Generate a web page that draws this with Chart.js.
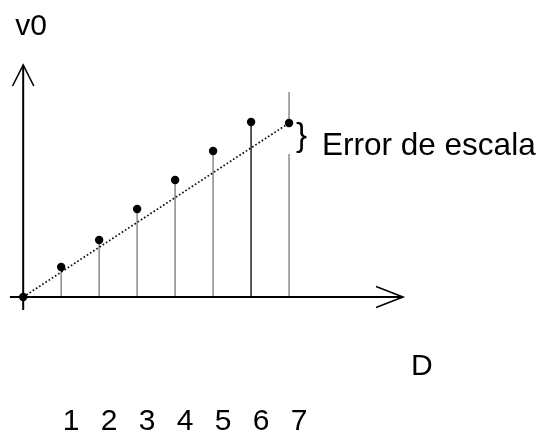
<!DOCTYPE html>
<html>
<head>
<meta charset="utf-8">
<script src="https://cdn.jsdelivr.net/npm/chart.js@4.4.1/dist/chart.umd.min.js"></script>
<style>
  html, body { margin: 0; padding: 0; background: #fff; }
  #wrap { width: 542px; height: 434px; }
</style>
</head>
<body>
<div id="wrap"><canvas id="c"></canvas></div>
<script>
// Reading number D and the measured v0 for each reading
const readings = [1, 2, 3, 4, 5, 6, 7];
const measured = [3.0, 5.7, 8.8, 11.7, 14.6, 17.5, 17.4];
const tickLabels = ['1', '2', '3', '4', '5', '6', '7'];

// Ideal scale: straight line from the origin to the last reading
const idealX = [0, 7];
const idealY = [0, 17.4];

// Vertical guide through the last reading, broken beside the brace
const guideX = 7;
const guideTop = 20.5;
const guideBreak = 14.3;

// Extent of the two drawn axes
const xAxisSpan = [-0.35, 10.0];
const yAxisSpan = [-1.3, 23.2];

const FONT = '"Liberation Sans", Arial, Helvetica, sans-serif';

function lineSet(points, color, width, extra) {
  return Object.assign({
    type: 'scatter',
    data: points,
    showLine: true,
    borderColor: color,
    borderWidth: width,
    pointRadius: 0,
    pointHoverRadius: 0,
    fill: false,
    tension: 0,
    clip: false,
    spanGaps: false
  }, extra || {});
}

const datasets = [];

// measured points (first dataset is painted on top)
datasets.push({
  type: 'scatter',
  data: readings.map((d, i) => ({ x: d, y: measured[i] })).concat([{ x: idealX[0], y: idealY[0] }]),
  backgroundColor: '#000',
  borderWidth: 0,
  pointRadius: 4.2,
  pointHoverRadius: 4.2,
  clip: false
});

// dotted ideal line
datasets.push(lineSet(
  idealX.map((x, i) => ({ x: x, y: idealY[i] })),
  '#111', 1.7, { borderDash: [1.7, 2.1] }
));

// axes and their arrowheads
const xTip = xAxisSpan[1], yTip = yAxisSpan[1];
datasets.push(lineSet([{ x: xAxisSpan[0], y: 0 }, { x: xTip, y: 0 }], '#000', 2));
datasets.push(lineSet([{ x: 0, y: yAxisSpan[0] }, { x: 0, y: yTip }], '#000', 2));
datasets.push(lineSet([{ x: xTip - 0.71, y: 1.05 }, { x: xTip, y: 0 }, { x: xTip - 0.71, y: -1.05 }], '#000', 1.6));
datasets.push(lineSet([{ x: -0.28, y: yTip - 2.1 }, { x: 0, y: yTip }, { x: 0.28, y: yTip - 2.1 }], '#000', 1.6));

// stems from the D axis up to each measured value
readings.forEach((d, i) => {
  if (d === guideX) {
    datasets.push(lineSet([{ x: d, y: 0 }, { x: d, y: guideBreak }], '#8a8a8a', 1.5));
    datasets.push(lineSet([{ x: d, y: measured[i] }, { x: d, y: guideTop }], '#8a8a8a', 1.5));
  } else {
    datasets.push(lineSet([{ x: d, y: 0 }, { x: d, y: measured[i] }], i === 5 ? '#222' : '#8a8a8a', 1.5));
  }
});

// free text: axis names, the brace and its note
const notes = {
  id: 'notes',
  afterDatasetsDraw(chart) {
    const { ctx, scales: { x, y } } = chart;
    const last = readings.length - 1;
    const px = x.getPixelForValue(readings[last]);
    const py = y.getPixelForValue(measured[last]);
    ctx.save();
    ctx.fillStyle = '#000';
    ctx.textAlign = 'left';
    ctx.textBaseline = 'alphabetic';
    ctx.font = '30px ' + FONT;
    ctx.fillText('v0', x.getPixelForValue(0) - 8, y.getPixelForValue(yTip) - 30);
    ctx.fillText('D', x.getPixelForValue(xTip) + 8, y.getPixelForValue(0) + 78);
    ctx.font = '31.5px ' + FONT;
    ctx.fillText('Error de escala', px + 33, py + 32);
    ctx.font = '33px ' + FONT;
    ctx.fillText('}', px + 7, py + 23);
    ctx.restore();
  }
};

new Chart(document.getElementById('c'), {
  type: 'scatter',
  data: { datasets: datasets },
  options: {
    responsive: true,
    maintainAspectRatio: false,
    animation: false,
    devicePixelRatio: 1,
    layout: { padding: { left: 4, right: 120, top: 57, bottom: 0 } },
    plugins: { legend: { display: false }, tooltip: { enabled: false } },
    events: [],
    scales: {
      x: {
        type: 'linear',
        position: 'bottom',
        min: -0.5,
        max: 10.5,
        grid: { display: false, drawTicks: false },
        border: { display: false },
        afterBuildTicks: (s) => { s.ticks = readings.map(v => ({ value: v })); },
        ticks: {
          autoSkip: false,
          maxRotation: 0,
          padding: 0,
          labelOffset: 10,
          color: '#000',
          font: { family: FONT, size: 30, lineHeight: 0.8 },
          callback: (v, i) => tickLabels[i]
        }
      },
      y: { type: 'linear', min: -11.3, max: 24, display: false }
    }
  },
  plugins: [notes]
});
</script>
</body>
</html>
